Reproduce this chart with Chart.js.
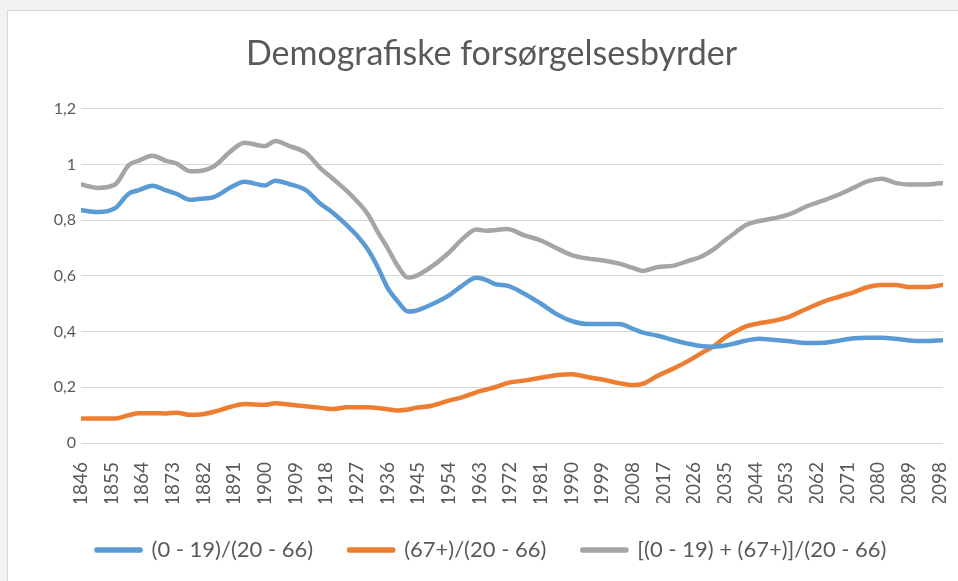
<!DOCTYPE html>
<html><head><meta charset="utf-8">
<script src="https://cdn.jsdelivr.net/npm/chart.js@4.4.1/dist/chart.umd.min.js"></script>
<style>
html,body{margin:0;padding:0;width:958px;height:581px;overflow:hidden;background:#f2f2f2;}
#frame{position:absolute;left:7px;top:10px;width:1000px;height:600px;background:#fff;border:1px solid #d9d9d9;}
#c{position:absolute;left:6px;top:0;}
</style></head><body>
<div id="frame"></div>
<canvas id="c" width="971" height="581"></canvas>
<script>
const years = [1846,1851,1856,1860,1863,1867,1871,1874,1878,1881,1885,1890,1894,1900,1903,1907,1912,1916,1920,1924,1927,1930,1933,1936,1939,1942,1944,1949,1954,1958,1962,1965,1968,1971,1976,1981,1986,1990,1995,1999,2004,2008,2011,2015,2020,2024,2028,2032,2035,2038,2041,2045,2049,2054,2059,2064,2069,2073,2077,2081,2085,2089,2094,2099];
const young = [0.836,0.829,0.843,0.895,0.908,0.924,0.907,0.895,0.873,0.877,0.883,0.918,0.938,0.925,0.942,0.930,0.908,0.862,0.826,0.782,0.745,0.698,0.634,0.557,0.508,0.472,0.474,0.498,0.530,0.566,0.593,0.585,0.569,0.565,0.537,0.500,0.460,0.438,0.427,0.427,0.427,0.410,0.396,0.386,0.369,0.357,0.348,0.346,0.350,0.358,0.367,0.374,0.371,0.365,0.359,0.360,0.369,0.376,0.378,0.378,0.374,0.368,0.366,0.369];
const old = [0.088,0.088,0.088,0.100,0.107,0.107,0.106,0.109,0.101,0.102,0.112,0.130,0.140,0.137,0.143,0.138,0.132,0.127,0.122,0.128,0.128,0.128,0.126,0.121,0.117,0.120,0.126,0.134,0.152,0.165,0.182,0.192,0.202,0.215,0.224,0.234,0.244,0.247,0.236,0.228,0.215,0.208,0.213,0.240,0.268,0.293,0.322,0.350,0.378,0.400,0.418,0.430,0.438,0.454,0.482,0.508,0.527,0.542,0.560,0.567,0.567,0.560,0.560,0.567];
const total = [0.928,0.916,0.928,0.998,1.014,1.031,1.013,1.004,0.976,0.977,0.993,1.048,1.078,1.066,1.084,1.067,1.042,0.990,0.948,0.905,0.868,0.825,0.760,0.700,0.635,0.594,0.598,0.634,0.684,0.733,0.767,0.762,0.765,0.768,0.746,0.727,0.697,0.675,0.662,0.656,0.644,0.629,0.618,0.631,0.637,0.653,0.669,0.698,0.728,0.755,0.782,0.797,0.806,0.822,0.850,0.871,0.895,0.918,0.940,0.949,0.934,0.928,0.928,0.934];
const tickYears = [1846,1855,1864,1873,1882,1891,1900,1909,1918,1927,1936,1945,1954,1963,1972,1981,1990,1999,2008,2017,2026,2035,2044,2053,2062,2071,2080,2089,2098];
const yTicks = [0,0.2,0.4,0.6,0.8,1,1.2];
const seriesNames = ['(0 - 19)/(20 - 66)','(67+)/(20 - 66)','[(0 - 19) + (67+)]/(20 - 66)'];
const seriesColors = ['#5B9BD5','#ED7D31','#A5A5A5'];
const chartTitle = 'Demografiske forsørgelsesbyrder';

const FONT = 'Lato';
const TXT = '#595959';
const mk = (vals) => years.map((yr,i)=>({x:yr,y:vals[i]}));
const ds = [young, old, total].map((vals,i)=>({
  label: seriesNames[i], data: mk(vals),
  borderColor: seriesColors[i], backgroundColor: seriesColors[i],
  borderWidth: 4.5, pointRadius: 0, borderCapStyle:'round', borderJoinStyle:'round',
  cubicInterpolationMode:'monotone', fill:false
}));

const chart = new Chart(document.getElementById('c'), {
  type:'line',
  data:{datasets:ds},
  options:{
    responsive:false, animation:false,
    layout:{padding:{left:0,right:0,top:0,bottom:10}},
    plugins:{
      title:{display:true,text:chartTitle,color:TXT,font:{family:FONT,size:34,weight:'normal'},padding:{top:34,bottom:34}},
      legend:{position:'bottom',labels:{boxWidth:44,boxHeight:1,padding:36,color:TXT,font:{family:FONT,size:22}}},
      tooltip:{enabled:false}
    },
    scales:{
      x:{type:'linear',min:1846,max:2099,
        afterBuildTicks:s=>{s.ticks=tickYears.map(v=>({value:v}));},
        afterFit:s=>{s.height=60;},
        grid:{display:false},border:{display:false},
        ticks:{autoSkip:false,maxRotation:90,minRotation:90,padding:11,color:TXT,font:{family:FONT,size:19},callback:v=>String(v)}},
      y:{min:0,max:1.2,
        afterBuildTicks:s=>{s.ticks=yTicks.map(v=>({value:v}));},
        afterFit:s=>{s.width=75;},
        grid:{color:'#d9d9d9',lineWidth:1,drawTicks:false},border:{display:false},
        ticks:{padding:5,color:TXT,font:{family:FONT,size:16},callback:v=>String(Math.round(v*10)/10).replace('.',',')}},
      yr:{position:'right',min:0,max:1,grid:{display:false},border:{display:false},
        ticks:{display:false},afterFit:s=>{s.width=34;}}
    }
  }
});
</script>
</body></html>
